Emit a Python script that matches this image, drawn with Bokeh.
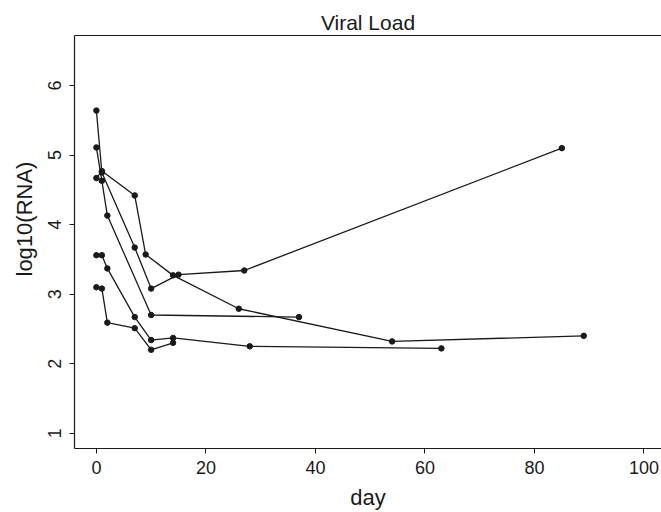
from bokeh.plotting import figure
from bokeh.models import Range1d, FixedTicker, Title, LinearAxis
from bokeh.embed import file_html
from bokeh.resources import INLINE

# Data: each patient's series (day, log10 RNA)
s1_day = [0, 1, 7, 9, 14, 26, 54, 89]
s1_val = [4.67, 4.77, 4.42, 3.57, 3.27, 2.79, 2.32, 2.40]
s2_day = [0, 1, 7, 10, 15, 27, 85]
s2_val = [5.64, 4.75, 3.67, 3.08, 3.28, 3.34, 5.10]
s3_day = [0, 1, 2, 10, 37]
s3_val = [5.11, 4.63, 4.13, 2.70, 2.67]
s4_day = [0, 1, 2, 7, 10, 14, 28, 63]
s4_val = [3.56, 3.56, 3.37, 2.67, 2.34, 2.37, 2.25, 2.22]
s5_day = [0, 1, 2, 7, 10, 14]
s5_val = [3.10, 3.08, 2.59, 2.51, 2.20, 2.30]

x_ticks = [0, 20, 40, 60, 80, 100]
y_ticks = [1, 2, 3, 4, 5, 6]

FONT = "Liberation Sans"
INK = "#1a1a1a"

p = figure(width=661, height=512, output_backend="svg", toolbar_location=None,
           x_range=Range1d(-4.0, 103.2), y_range=Range1d(0.78, 6.72),
           title="Viral Load", x_axis_label="day",
           min_border_left=74, min_border_right=0, min_border_top=35,
           min_border_bottom=59)

p.grid.visible = False
p.outline_line_color = None
p.background_fill_color = "white"
p.border_fill_color = "white"

p.title.text_font = FONT
p.title.text_font_size = "21px"
p.title.text_font_style = "normal"
p.title.text_color = INK
p.title.align = "center"
p.title.standoff = 4

for ax in (p.xaxis[0], p.yaxis[0]):
    ax.axis_label_text_font = FONT
    ax.axis_label_text_font_size = "22px"
    ax.axis_label_text_font_style = "normal"
    ax.axis_label_text_color = INK
    ax.major_label_text_font = FONT
    ax.major_label_text_font_size = "18px"
    ax.major_label_text_color = INK
    ax.major_tick_in = 0
    ax.major_tick_out = 5
    ax.minor_tick_line_color = None
    ax.major_tick_line_color = INK
    ax.axis_line_color = INK
    ax.axis_line_width = 1.2

p.xaxis[0].ticker = FixedTicker(ticks=x_ticks)
p.yaxis[0].ticker = FixedTicker(ticks=y_ticks)
p.yaxis[0].major_label_orientation = "vertical"
p.xaxis[0].major_label_standoff = 7
p.xaxis[0].axis_label_standoff = 8
p.yaxis[0].major_label_standoff = 8

# top edge of the box (R draws a full box; right side falls outside the picture)
top = LinearAxis(ticker=FixedTicker(ticks=[]), major_label_text_font_size="0px",
                 major_tick_line_color=None, minor_tick_line_color=None,
                 major_tick_out=0, major_label_standoff=0,
                 axis_line_color=INK, axis_line_width=1.2)
p.add_layout(top, "above")

ylab = Title(text="log10(RNA)", align="left", offset=172,
             text_font=FONT, text_font_size="22px", text_font_style="normal",
             text_color=INK, standoff=18)
p.add_layout(ylab, "left")

for d, v in [(s1_day, s1_val), (s2_day, s2_val), (s3_day, s3_val),
             (s4_day, s4_val), (s5_day, s5_val)]:
    p.line(d, v, line_color=INK, line_width=1.3)
    p.scatter(d, v, size=5.5, fill_color=INK, line_color=INK)

open("out.html", "w").write(file_html(p, INLINE))
